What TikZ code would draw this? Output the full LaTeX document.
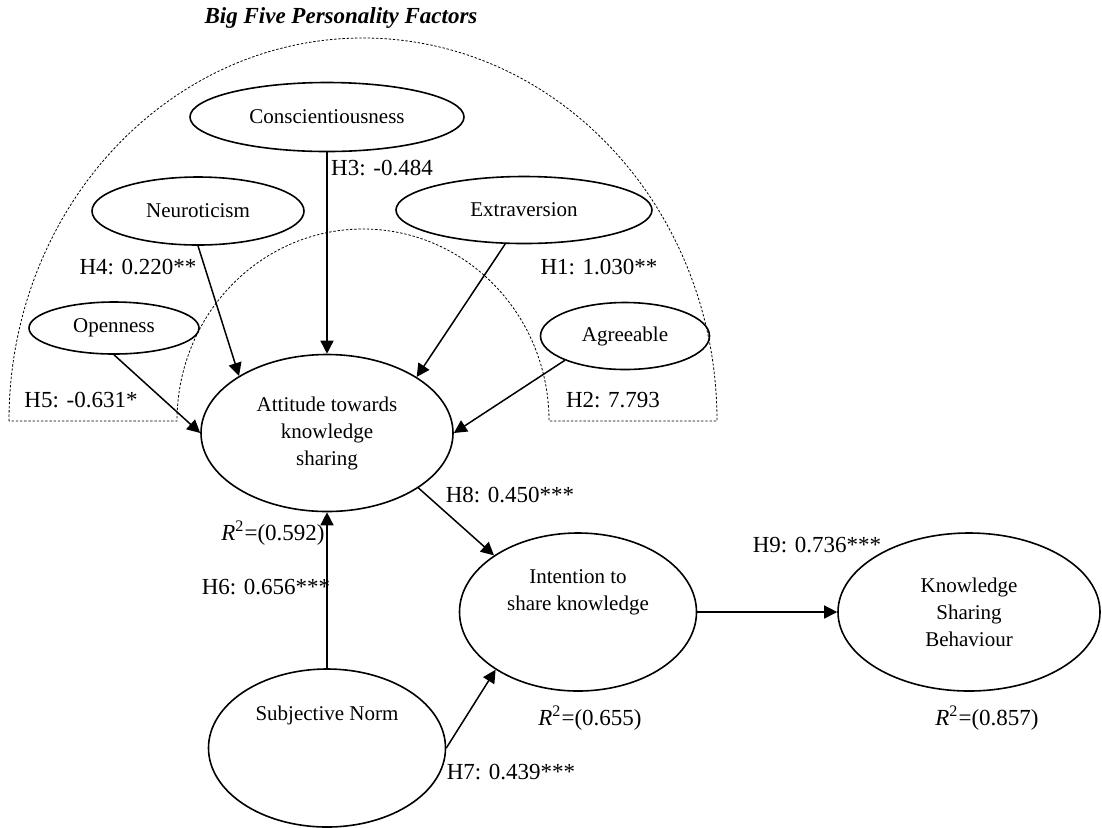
\documentclass[tikz,border=0pt]{standalone}
\usepackage{fontspec}
\setmainfont{Liberation Serif}
\usetikzlibrary{arrows.meta,shapes.geometric}

\tikzset{
  factor/.style={ellipse,draw,line width=0.8pt,inner sep=0pt,align=center,
    font=\fontsize{10.5}{13.5}\selectfont},
  intext/.style={inner sep=0pt,align=center,font=\fontsize{10.5}{13.5}\selectfont},
  coef/.style={inner sep=0pt,font=\fontsize{11.5}{13.5}\selectfont},
  link/.style={line width=0.75pt,-{Triangle[length=6.5pt,width=6.5pt]}},
  groupline/.style={line width=0.4pt,dash pattern=on 1.2pt off 0.9pt}
}

\begin{document}
\begin{tikzpicture}[x=0.5pt,y=-0.5pt]
\useasboundingbox (0,0) rectangle (1102,827);

% big five group
\draw [groupline] (9,421) arc[start angle=180,end angle=360,x radius=354,y radius=383]
  -- (549,421) arc[start angle=360,end angle=180,x radius=186,y radius=192] -- cycle;
\node [font=\fontsize{11.5}{13.5}\selectfont\bfseries\itshape] (title) at (341,18) {Big Five Personality Factors};

\node [factor,minimum width=137pt,minimum height=34.5pt] (con) at (327,117) {Conscientiousness};
\node [factor,minimum width=106pt,minimum height=34pt] (neu) at (198,211) {Neuroticism};
\node [factor,minimum width=128pt,minimum height=33.5pt] (ext) at (524,210) {Extraversion};
\node [factor,minimum width=85pt,minimum height=26pt] (ope) at (114,328) {Openness};
\node [factor,minimum width=84.5pt,minimum height=33.5pt] (agr) at (625,336) {Agreeable};

\node [factor,minimum width=126pt,minimum height=78.5pt] (att) at (327,433) {Attitude towards\\knowledge\\sharing};
\node [factor,minimum width=118.5pt,minimum height=79pt] (int) at (578,612) {};
\node [intext] (inttext) at (578,592) {Intention to\\share knowledge};
\node [factor,minimum width=131pt,minimum height=79pt] (ksb) at (969,612) {Knowledge\\Sharing\\Behaviour};
\node [factor,minimum width=118.5pt,minimum height=79pt] (sn) at (327,748) {};
\node [intext] (sntext) at (327,715) {Subjective Norm};

\draw [link] (con.south) -- (att.north);
\draw [link] (neu.south) -- (att.147);
\draw [link] (ext.241) -- (att.32);
\draw [link] (ope.south) -- (att.west);
\draw [link] (agr.202) -- (att.east);
\draw [link] (sn.north) -- (att.south);
\draw [link] (att.329) -- (int.146);
\draw [link] (sn.east) -- (int.215);
\draw [link] (int) -- (ksb);

\node [coef] (h3) at (382,168) {H3: -0.484};
\node [coef] (h4) at (138,267) {H4: 0.220**};
\node [coef] (h1) at (599,267) {H1: 1.030**};
\node [coef] (h5) at (81,400) {H5: -0.631*};
\node [coef] (h2) at (613,400) {H2: 7.793};
\node [coef] (h8) at (510,495) {H8: 0.450***};
\node [coef] (h6) at (266,587) {H6: 0.656***};
\node [coef] (h7) at (511,772) {H7: 0.439***};
\node [coef] (h9) at (817,545) {H9: 0.736***};
\node [coef] (r1) at (273,533) {\textit{R}\textsuperscript{2}=(0.592)};
\node [coef] (r2) at (590,718) {\textit{R}\textsuperscript{2}=(0.655)};
\node [coef] (r3) at (987,718) {\textit{R}\textsuperscript{2}=(0.857)};

\end{tikzpicture}
\end{document}
